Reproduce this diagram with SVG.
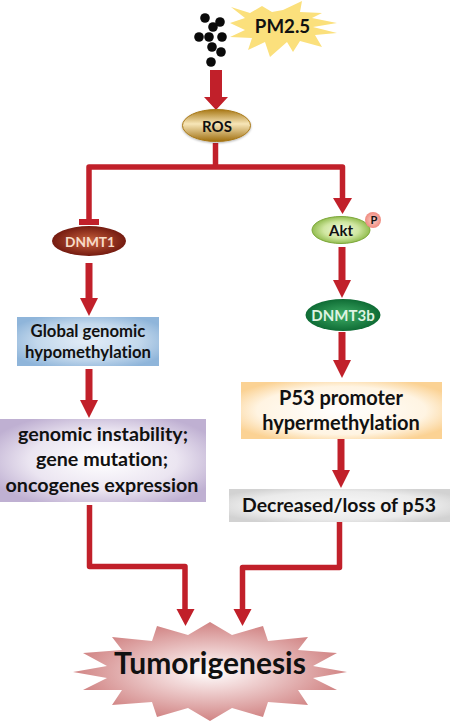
<svg xmlns="http://www.w3.org/2000/svg" width="450" height="728" viewBox="0 0 450 728">
<defs>
<radialGradient id="gBlue" cx="50%" cy="50%" r="60%"><stop offset="0" stop-color="#e3edf7"/><stop offset="0.6" stop-color="#c3d8ec"/><stop offset="1" stop-color="#8fb5da"/></radialGradient>
<radialGradient id="gPurple" cx="50%" cy="50%" r="60%"><stop offset="0" stop-color="#ffffff"/><stop offset="0.6" stop-color="#ebe5f1"/><stop offset="1" stop-color="#bfb0d2"/></radialGradient>
<radialGradient id="gOrange" cx="50%" cy="50%" r="60%"><stop offset="0" stop-color="#ffffff"/><stop offset="0.7" stop-color="#fff4e2"/><stop offset="1" stop-color="#fbd294"/></radialGradient>
<radialGradient id="gGray" cx="50%" cy="50%" r="60%"><stop offset="0" stop-color="#f8f8f8"/><stop offset="0.7" stop-color="#ebebeb"/><stop offset="1" stop-color="#d2d2d2"/></radialGradient>
<radialGradient id="gBurst" cx="50%" cy="50%" r="52%"><stop offset="0" stop-color="#ffffff"/><stop offset="0.35" stop-color="#f0d3d3"/><stop offset="1" stop-color="#cf7f7f"/></radialGradient>
<linearGradient id="gRos" x1="0" y1="0" x2="0" y2="1"><stop offset="0" stop-color="#a87816"/><stop offset="0.45" stop-color="#f7e6b8"/><stop offset="1" stop-color="#a06f10"/></linearGradient>
<radialGradient id="gDn1" cx="50%" cy="50%" r="55%"><stop offset="0" stop-color="#c8603c"/><stop offset="1" stop-color="#6c140c"/></radialGradient>
<radialGradient id="gAkt" cx="50%" cy="50%" r="55%"><stop offset="0" stop-color="#f1f8df"/><stop offset="0.55" stop-color="#cfe6a0"/><stop offset="1" stop-color="#84b33c"/></radialGradient>
<radialGradient id="gDn3" cx="50%" cy="50%" r="55%"><stop offset="0" stop-color="#3fae66"/><stop offset="1" stop-color="#0a6530"/></radialGradient>
<radialGradient id="gP" cx="50%" cy="50%" r="55%"><stop offset="0" stop-color="#fbd0c8"/><stop offset="1" stop-color="#ee8478"/></radialGradient>
<filter id="soft" x="-10%" y="-20%" width="120%" height="140%"><feDropShadow dx="0" dy="1" stdDeviation="1" flood-color="#000" flood-opacity="0.3"/></filter>
<marker id="head" markerUnits="userSpaceOnUse" markerWidth="19" markerHeight="18" refX="0" refY="9" orient="auto"><path d="M0 0L18 9L0 18Z" fill="#c1202a"/></marker>
</defs>
<style>
text{font-family:Lato,"Liberation Sans",sans-serif;font-weight:700;text-anchor:middle;fill:#111;font-variant-ligatures:none}
.c{fill:none;stroke:#c1202a;stroke-linejoin:round}
.w5{stroke-width:5.5}
.w7{stroke-width:7}
.dot{fill:#0a0a0a}
</style>
<g id="connectors">
<path d="M210 70H222V97H228L216 110L204 97H210Z" fill="#c1202a"/>
<path class="c w5" d="M215.500 143V167"/>
<path class="c w5" d="M89 223V167H342.500V198"/>
<path d="M79 219H99V225H79Z" fill="#c1202a"/>
<path d="M333 198H352L342.500 214Z" fill="#c1202a"/>
<path class="c w7" d="M89 263V298" marker-end="url(#head)"/>
<path class="c w7" d="M89 369V400" marker-end="url(#head)"/>
<path class="c w7" d="M342 247V280" marker-end="url(#head)"/>
<path class="c w7" d="M342 332V360" marker-end="url(#head)"/>
<path class="c w7" d="M341 439V470" marker-end="url(#head)"/>
<path class="c w5" d="M89.500 505V566.500H185V609"/>
<path class="c w5" d="M339.500 522V567.500H242.500V609"/>
<path d="M176.500 609H194.500L185.500 626Z" fill="#c1202a"/>
<path d="M233.500 609H251.500L242.500 626Z" fill="#c1202a"/>
</g>
<g id="particles">
<circle class="dot" cx="205" cy="18" r="4.800"/><circle class="dot" cx="220" cy="22" r="4.800"/><circle class="dot" cx="213" cy="27" r="4.800"/><circle class="dot" cx="199" cy="37" r="4.800"/><circle class="dot" cx="209" cy="37" r="4.800"/><circle class="dot" cx="222" cy="37" r="4.800"/><circle class="dot" cx="212" cy="47" r="4.800"/><circle class="dot" cx="221" cy="52" r="4.800"/><circle class="dot" cx="211" cy="62" r="4.800"/>
</g>
<g id="pm25">
<polygon fill="#fbe07c" points="231,7 250,13 262,6 272,12 283,10 302,1 300,12 322,13 312,18 337,23 313,27 337,33 315,35 322,47 300,41 293,52 287,42 270,57 265,42 248,50 252,38 230,37 245,30 230,23 245,18"/>
<text x="282.500" y="33" font-size="18.700">PM2.5</text>
</g>
<g id="ros">
<ellipse cx="216.500" cy="125.500" rx="34" ry="16" fill="url(#gRos)" stroke="#a87816" filter="url(#soft)"/>
<text x="217" y="132" font-size="15">ROS</text>
</g>
<g id="dnmt1">
<ellipse cx="89" cy="241" rx="37" ry="15" fill="url(#gDn1)"/>
<text x="90" y="247" font-size="13.700" style="fill:#f7dcc8">DNMT1</text>
</g>
<g id="akt">
<ellipse cx="341" cy="230" rx="29" ry="13.500" fill="url(#gAkt)" stroke="#7da83a"/>
<circle cx="373" cy="220" r="8" fill="url(#gP)"/>
<text x="341" y="236" font-size="15">Akt</text>
<text x="374" y="224" font-size="11">P</text>
</g>
<g id="dnmt3b">
<ellipse cx="343" cy="315" rx="37.500" ry="16" fill="url(#gDn3)"/>
<text x="343" y="321" font-size="15" style="fill:#dff3e2">DNMT3b</text>
</g>
<g id="global">
<rect x="17" y="317" width="142" height="49" fill="url(#gBlue)"/>
<text x="88" y="337" font-size="16.700">Global genomic</text>
<text x="88" y="358" font-size="16.700">hypomethylation</text>
</g>
<g id="instability">
<rect x="0" y="419" width="206" height="83" fill="url(#gPurple)"/>
<text x="103" y="441" font-size="19.700">genomic instability;</text>
<text x="102" y="466" font-size="19.700">gene mutation;</text>
<text x="102" y="492" font-size="19.700">oncogenes expression</text>
</g>
<g id="p53promoter">
<rect x="241" y="382" width="201" height="57" fill="url(#gOrange)"/>
<text x="341" y="405" font-size="20">P53 promoter</text>
<text x="341" y="430" font-size="20">hypermethylation</text>
</g>
<g id="p53loss">
<rect x="229" y="489" width="221" height="33" fill="url(#gGray)"/>
<text x="339" y="512" font-size="19.400">Decreased/loss of p53</text>
</g>
<g id="tumorigenesis">
<polygon fill="url(#gBurst)" points="73,672 107,666 83,653 122,650 112,637 152,641 157,626 188,635 210,622 232,635 263,626 268,641 308,637 298,650 337,653 313,666 347,672 313,678 337,690 298,690 308,705 268,702 263,717 232,708 210,721 188,708 157,717 152,702 112,705 122,690 83,690 107,678"/>
<text x="210" y="674" font-size="30">Tumorigenesis</text>
</g>
</svg>
